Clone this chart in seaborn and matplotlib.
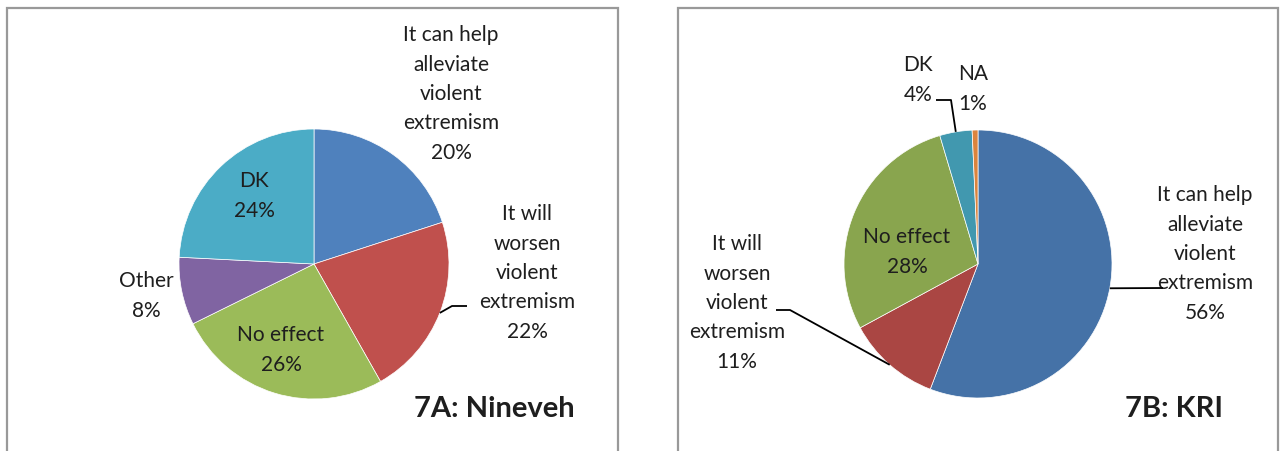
import matplotlib
matplotlib.use("Agg")
import matplotlib.pyplot as plt
import seaborn as sns
import numpy as np
from matplotlib.patches import Rectangle

sns.set_theme(style="white")
plt.rcParams['font.family'] = ['Lato', 'DejaVu Sans']

# ---------------- data ----------------
nin_categories = ["It can help\nalleviate\nviolent\nextremism",
                  "It will\nworsen\nviolent\nextremism",
                  "No effect", "Other", "DK"]
nin_values = [20.0, 21.8, 25.9, 8.1, 24.2]
nin_title = "7A: Nineveh"

kri_categories = ["It can help\nalleviate\nviolent\nextremism",
                  "It will\nworsen\nviolent\nextremism",
                  "No effect", "DK", "NA"]
kri_values = [55.8, 11.3, 28.3, 3.9, 0.7]
kri_title = "7B: KRI"

# ---------------- style / layout ----------------
nin_colors = ["#4F81BD", "#C0504D", "#9BBB59", "#8064A2", "#4BACC6"]
kri_colors = ["#4572A7", "#AA4643", "#89A54E", "#4198AF", "#DB843D"]

W, H = 1281, 452
fig = plt.figure(figsize=(W / 100, H / 100), dpi=100)
ax = fig.add_axes([0, 0, 1, 1])

TXT = "#1e1e1e"
FS = 15
LS = 29.3  # px between lines


def label(x, y_img, text, fs=FS, weight="normal", ha="center"):
    lines = text.split("\n")
    n = len(lines)
    for i, line in enumerate(lines):
        yy = y_img + (i - (n - 1) / 2) * LS
        ax.text(x, H - yy, line, fontsize=fs, fontweight=weight, color=TXT,
                ha=ha, va="center")


def edge_point(w, center, r):
    mid = np.deg2rad((w.theta1 + w.theta2) / 2)
    return center[0] + r * np.cos(mid), center[1] + r * np.sin(mid)


def leader(pts):
    xs = [p[0] for p in pts]
    ys = [p[1] for p in pts]
    ax.plot(xs, ys, color="black", lw=1.3, solid_capstyle="butt", zorder=5)


panels = [
    dict(values=nin_values, cats=nin_categories, colors=nin_colors, title=nin_title,
         center=(314, 265), r=135, title_xy=(414, 409),
         pos=[(451, 94), (527, 273), (281, 350), (146, 296), (254, 196)],
         leaders={1: [(452, 307), (467, 307)]},
         box=(7, 618)),
    dict(values=kri_values, cats=kri_categories, colors=kri_colors, title=kri_title,
         center=(978, 265), r=134, title_xy=(1125, 409),
         pos=[(1205, 254), (737, 303), (907, 252), (918, 80), (973, 89)],
         leaders={0: [(1163, 289)], 1: [(790, 311), (776, 311)], 3: [(951, 101), (936, 101)]},
         box=(678, 1278)),
]

for p in panels:
    c = (p["center"][0], H - p["center"][1])
    wedges, _ = ax.pie(p["values"], colors=p["colors"], startangle=90, counterclock=False,
                       center=c, radius=p["r"],
                       wedgeprops=dict(edgecolor="white", linewidth=0.5))
    for i, (cat, v) in enumerate(zip(p["cats"], p["values"])):
        x, y = p["pos"][i]
        label(x, y, f"{cat}\n{round(v)}%")
    for i, pts in p["leaders"].items():
        start = edge_point(wedges[i], c, p["r"])
        leader([start] + [(x, H - y) for x, y in pts])
    tx, ty = p["title_xy"]
    label(tx, ty, p["title"], fs=21, weight="bold", ha="left")
    x0, x1 = p["box"]
    ax.add_patch(Rectangle((x0, -20), x1 - x0, H - 9 + 20, fill=False,
                           edgecolor="#999999", lw=1.6, zorder=6))

ax.set_xlim(0, W)
ax.set_ylim(0, H)
ax.set_aspect("equal")
ax.axis("off")

fig.savefig("out.png", dpi=100, facecolor="white")
